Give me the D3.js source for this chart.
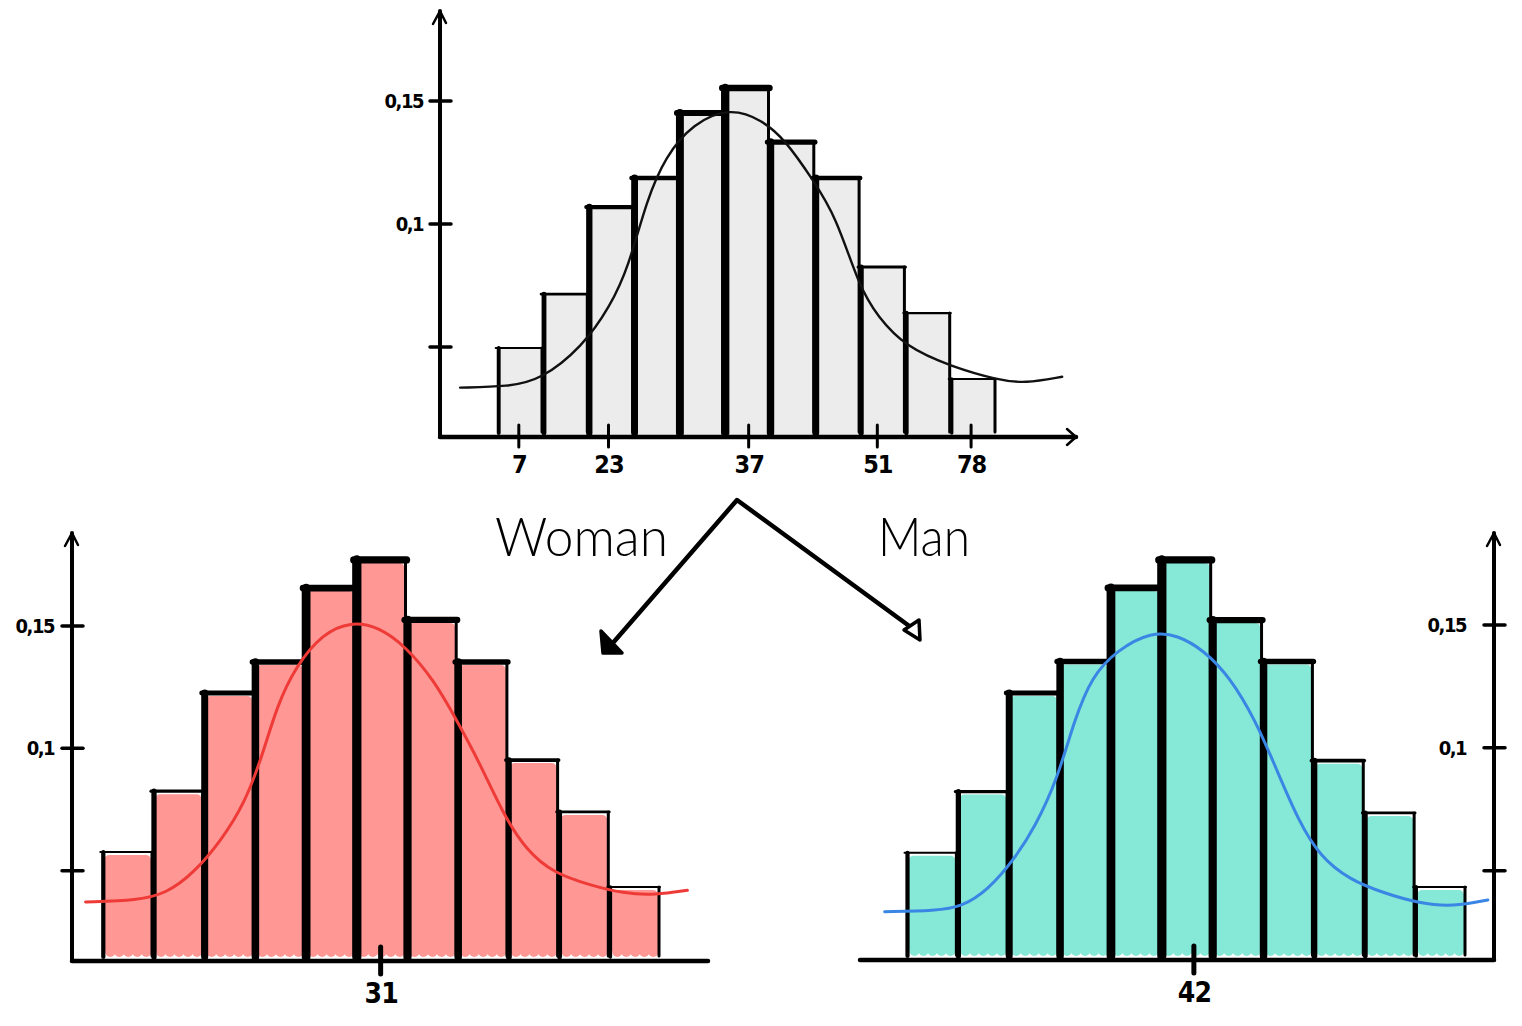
<!DOCTYPE html>
<html>
<head>
<meta charset="utf-8">
<script src="https://cdn.jsdelivr.net/npm/d3@7"></script>
<style>
  body { margin: 0; background: #fff; }
  svg { display: block; }
</style>
</head>
<body>
<div class="usable"></div>
<script>
// bins (index of each histogram bar)
const binIndex = [0, 1, 2, 3, 4, 5, 6, 7, 8, 9, 10];

// bar heights (density)
const allValues   = [0.0496, 0.0715, 0.1069, 0.1187, 0.1451, 0.1553, 0.1333, 0.1187, 0.0825, 0.0638, 0.0370];
const womanValues = [0.0576, 0.0825, 0.1226, 0.1353, 0.1655, 0.1770, 0.1525, 0.1353, 0.0952, 0.0740, 0.0433];
const manValues   = [0.0573, 0.0822, 0.1223, 0.1351, 0.1651, 0.1765, 0.1520, 0.1351, 0.0948, 0.0735, 0.0434];

// density curves, [bin position, density]
const allCurve = [[-0.83, 0.0335], [0.24, 0.0339], [0.95, 0.0366], [1.87, 0.0501], [2.48, 0.0664],
  [2.89, 0.0826], [3.29, 0.1098], [3.70, 0.1274], [4.31, 0.1409], [5.13, 0.1474], [5.84, 0.1423],
  [6.35, 0.1341], [6.96, 0.1179], [7.47, 0.1030], [7.98, 0.0745], [8.39, 0.0623], [9.00, 0.0501],
  [10.02, 0.0420], [11.04, 0.0366], [11.64, 0.0352], [12.46, 0.0379]];
const womanCurve = [[-0.33, 0.0372], [0.71, 0.0379], [1.26, 0.0407], [1.80, 0.0489], [2.35, 0.0625],
  [2.81, 0.0775], [3.17, 0.0979], [3.44, 0.1170], [3.81, 0.1334], [4.35, 0.1470], [4.90, 0.1518],
  [5.45, 0.1497], [5.99, 0.1415], [6.54, 0.1279], [6.99, 0.1115], [7.45, 0.0938], [7.90, 0.0734],
  [8.36, 0.0584], [8.91, 0.0489], [9.63, 0.0441], [10.27, 0.0407], [10.91, 0.0400], [11.54, 0.0420]];
const manCurve = [[-0.43, 0.0333], [0.58, 0.0337], [1.09, 0.0353], [1.60, 0.0421], [2.11, 0.0544],
  [2.53, 0.0679], [2.96, 0.0869], [3.30, 0.1113], [3.64, 0.1290], [4.14, 0.1398], [4.82, 0.1473],
  [5.33, 0.1459], [5.84, 0.1398], [6.35, 0.1290], [6.86, 0.1113], [7.28, 0.0910], [7.70, 0.0706],
  [8.13, 0.0557], [8.72, 0.0462], [9.40, 0.0408], [10.08, 0.0367], [10.75, 0.0353], [11.43, 0.0381]];

// tick labels
const yTickValues = [0.05, 0.1, 0.15];
const yTickLabels = ["", "0,1", "0,15"];
const allXTickPos = [0.466, 2.446, 5.54, 8.38, 10.45];
const allXTickLabels = ["7", "23", "37", "51", "78"];
const womanXTickPos = [5.49];
const womanXTickLabels = ["31"];
const manXTickPos = [5.65];
const manXTickLabels = ["42"];

const groupLabels = ["Woman", "Man"];

let creador = d3.select(".usable").append("svg")
    .attr("width", 1522)
    .attr("height", 1026);

const hand = "'DejaVu Sans Condensed', 'Liberation Sans Narrow', 'Open Sans', sans-serif";

function drawHist(cfg) {
    const g = creador.append("g");
    const x = d3.scaleLinear().domain([0, 11]).range([cfg.left, cfg.right]);
    const y = d3.scaleLinear().domain([0.05, 0.15]).range([cfg.y05, cfg.y15]);
    const base = cfg.base;

    // bars
    const bars = g.append("g").selectAll("g").data(cfg.values).join("g");
    if (cfg.colored) {
        bars.append("rect")
            .attr("x", (d, i) => x(binIndex[i]) + 2)
            .attr("y", d => y(d) + 3)
            .attr("width", (d, i) => x(binIndex[i] + 1) - x(binIndex[i]) - 4)
            .attr("height", d => base - 8 - y(d) - 3)
            .attr("rx", 5)
            .attr("fill", cfg.fill);
        // scalloped bottom of the marker fill
        bars.each(function (d, i) {
            const x0 = x(binIndex[i]) + 4, x1 = x(binIndex[i] + 1) - 4;
            d3.select(this).selectAll("circle")
                .data(d3.range(x0, x1, 9))
                .join("circle")
                .attr("cx", c => c + 4)
                .attr("cy", base - 9)
                .attr("r", 5)
                .attr("fill", cfg.fill);
        });
    } else {
        bars.append("rect")
            .attr("x", (d, i) => x(binIndex[i]))
            .attr("y", d => y(d))
            .attr("width", (d, i) => x(binIndex[i] + 1) - x(binIndex[i]))
            .attr("height", d => base - y(d))
            .attr("fill", cfg.fill);
    }
    const topWidth = d => Math.max(2, 1.2 + (d - 0.04) * 45);
    bars.append("line")
        .attr("x1", (d, i) => x(binIndex[i] + 1) - 1)
        .attr("x2", (d, i) => x(binIndex[i] + 1) - 1)
        .attr("y1", base - 5)
        .attr("y2", d => y(d))
        .attr("stroke", "#000")
        .attr("stroke-width", 3)
        .attr("stroke-linecap", "round");
    bars.append("line")
        .attr("x1", (d, i) => x(binIndex[i]) + 1)
        .attr("x2", (d, i) => x(binIndex[i]) + 1)
        .attr("y1", base - 4)
        .attr("y2", d => y(d))
        .attr("stroke", "#000")
        .attr("stroke-width", d => 3.5 + (d - 0.04) * 42)
        .attr("stroke-linecap", "round");
    bars.append("line")
        .attr("x1", (d, i) => x(binIndex[i]) - 2)
        .attr("x2", (d, i) => x(binIndex[i] + 1))
        .attr("y1", d => y(d))
        .attr("y2", d => y(d))
        .attr("stroke", "#000")
        .attr("stroke-width", topWidth)
        .attr("stroke-linecap", "round");

    // axes lines
    const ax = g.append("g").attr("fill", "none").attr("stroke", "#000")
        .attr("stroke-linecap", "round").attr("stroke-linejoin", "round");
    ax.append("path").attr("stroke-width", 4)
        .attr("d", `M${cfg.axisX},${base} L${cfg.axisX},${cfg.axisTop}`);
    ax.append("path").attr("stroke-width", 2.5)
        .attr("d", `M${cfg.axisX - 7},${cfg.axisTop + 13} L${cfg.axisX},${cfg.axisTop} L${cfg.axisX + 6},${cfg.axisTop + 12}`);
    ax.append("path").attr("stroke-width", 4.5)
        .attr("d", `M${cfg.xAxisFrom},${base} L${cfg.xAxisTo},${base}`);
    if (cfg.xArrow) {
        ax.append("path").attr("stroke-width", 2.5)
            .attr("d", `M${cfg.xAxisTo - 9},${base - 8} L${cfg.xAxisTo},${base} L${cfg.xAxisTo - 9},${base + 8}`);
    }

    // y ticks
    const yAxis = d3.axisLeft(y)
        .tickValues(yTickValues)
        .tickSize(0)
        .tickPadding(cfg.yPad)
        .tickFormat((d, i) => yTickLabels[i]);
    const ya = g.append("g").attr("transform", `translate(${cfg.axisX},0)`).call(yAxis);
    ya.select(".domain").remove();
    ya.selectAll("text")
        .attr("font-family", hand)
        .attr("font-weight", "bold")
        .attr("font-size", 20)
        .attr("letter-spacing", -1.5)
        .attr("fill", "#000");
    g.append("g").selectAll("line").data(yTickValues).join("line")
        .attr("x1", cfg.axisX - 10).attr("x2", cfg.axisX + 11)
        .attr("y1", d => y(d)).attr("y2", d => y(d))
        .attr("stroke", "#000").attr("stroke-width", 3.5).attr("stroke-linecap", "round");

    // x ticks
    const xAxis = d3.axisBottom(x)
        .tickValues(cfg.xTickPos)
        .tickSize(0)
        .tickPadding(cfg.xPad)
        .tickFormat((d, i) => cfg.xTickLabels[i]);
    const xa = g.append("g").attr("transform", `translate(0,${base})`).call(xAxis);
    xa.select(".domain").remove();
    xa.selectAll("text")
        .attr("font-family", hand)
        .attr("font-weight", "bold")
        .attr("font-size", cfg.xFont)
        .attr("letter-spacing", -1)
        .attr("fill", "#000");
    g.append("g").selectAll("line").data(cfg.xTickPos).join("line")
        .attr("x1", d => x(d)).attr("x2", d => x(d))
        .attr("y1", base - cfg.xTickUp).attr("y2", base + cfg.xTickDown)
        .attr("stroke", "#000").attr("stroke-width", cfg.xTickW).attr("stroke-linecap", "round");

    // density curve
    const line = d3.line()
        .x(d => x(d[0]))
        .y(d => y(d[1]))
        .curve(d3.curveBasis);
    g.append("path")
        .datum(cfg.curve)
        .attr("d", line)
        .attr("fill", "none")
        .attr("stroke", cfg.curveColor)
        .attr("stroke-width", cfg.curveW)
        .attr("stroke-linecap", "round");
}

drawHist({
    values: allValues, curve: allCurve, colored: false, fill: "#ececec",
    curveColor: "#111", curveW: 2.4,
    left: 497.7, right: 996, y05: 347, y15: 101, base: 437,
    axisX: 440, axisTop: 11, xAxisFrom: 440, xAxisTo: 1076, xArrow: true,
    yPad: 17, xPad: 18, xFont: 25, xTickUp: 12, xTickDown: 10, xTickW: 3,
    xTickPos: allXTickPos, xTickLabels: allXTickLabels
});

drawHist({
    values: womanValues, curve: womanCurve, colored: true, fill: "#ff9795",
    curveColor: "#ef3b37", curveW: 3,
    left: 102.3, right: 660, y05: 870.7, y15: 626, base: 961,
    axisX: 72, axisTop: 533, xAxisFrom: 72, xAxisTo: 708, xArrow: false,
    yPad: 18, xPad: 22, xFont: 28, xTickUp: 14, xTickDown: 13, xTickW: 5,
    xTickPos: womanXTickPos, xTickLabels: womanXTickLabels
});

drawHist({
    values: manValues, curve: manCurve, colored: true, fill: "#86e8d7",
    curveColor: "#3a86e4", curveW: 3,
    left: 906.5, right: 1466, y05: 870.7, y15: 625, base: 960,
    axisX: 1494, axisTop: 533, xAxisFrom: 860, xAxisTo: 1494, xArrow: false,
    yPad: 28, xPad: 22, xFont: 28, xTickUp: 14, xTickDown: 13, xTickW: 5,
    xTickPos: manXTickPos, xTickLabels: manXTickLabels
});

// split arrows between the histograms
const arrows = creador.append("g").attr("fill", "none").attr("stroke", "#000")
    .attr("stroke-linecap", "round").attr("stroke-linejoin", "round");
arrows.append("path").attr("stroke-width", 4.5)
    .attr("d", "M612,644 L737,500 L912,628");
arrows.append("path").attr("stroke-width", 3.5).attr("fill", "#000")
    .attr("d", "M601,631 L622,653 L603,653 Z");
arrows.append("path").attr("stroke-width", 3.5).attr("fill", "#fff")
    .attr("d", "M904,630 L919,620 L920,640 Z");

creador.append("text")
    .attr("x", 495).attr("y", 556)
    .attr("font-family", "Lato, 'Open Sans', sans-serif")
    .attr("font-weight", 300)
    .attr("font-size", 54)
    .attr("textLength", 173)
    .attr("lengthAdjust", "spacingAndGlyphs")
    .text(groupLabels[0]);
creador.append("text")
    .attr("x", 878).attr("y", 556)
    .attr("font-family", "Lato, 'Open Sans', sans-serif")
    .attr("font-weight", 300)
    .attr("font-size", 54)
    .attr("textLength", 92)
    .attr("lengthAdjust", "spacingAndGlyphs")
    .text(groupLabels[1]);
</script>
</body>
</html>
